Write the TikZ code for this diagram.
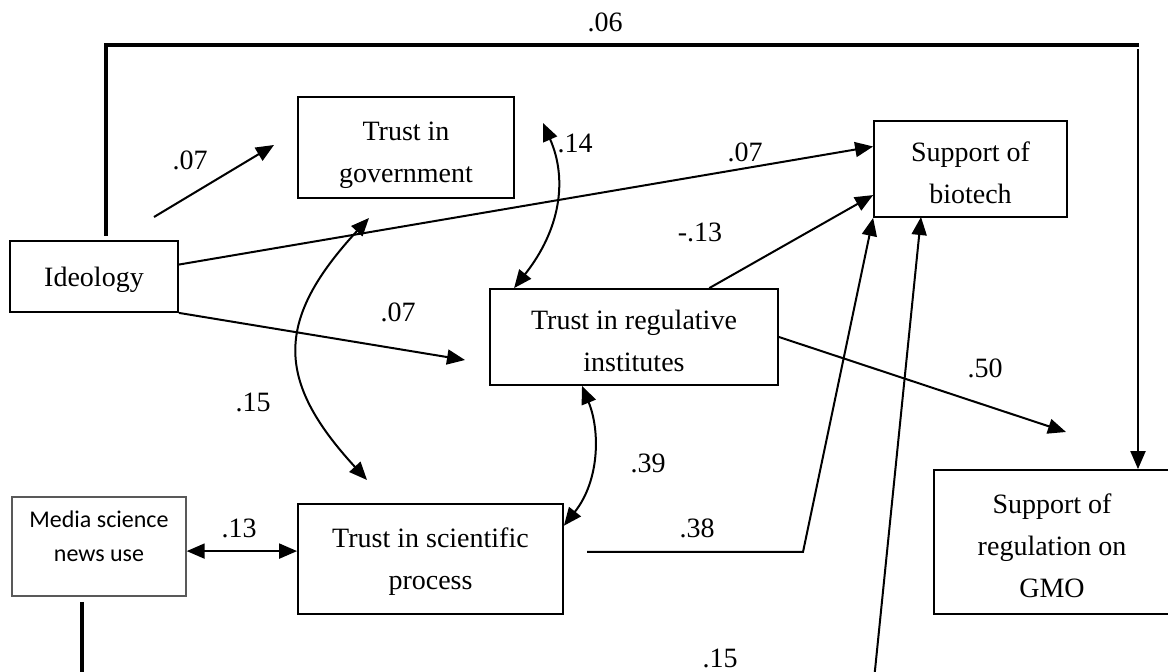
\documentclass[tikz,border=0pt]{standalone}
\usepackage{fontspec}
\setmainfont{Liberation Serif}
\newfontfamily\mediafont{Carlito}
\usepackage{tikz}
\usetikzlibrary{arrows.meta}

\newcommand{\topstrut}{\rule{0pt}{14pt}}

\tikzset{
  box/.style = {draw, line width = 0.9pt, inner sep = 0pt, align = center,
    font = \fontsize{14}{21}\selectfont, text depth = 0pt},
  mediabox/.style = {draw = black!65, line width = 0.7pt, inner sep = 0pt,
    align = center, font = \mediafont\fontsize{12}{17}\selectfont},
  coef/.style = {inner sep = 0pt, font = \fontsize{14}{16}\selectfont},
  link/.style = {line width = 1pt, -{Triangle[length = 9pt, width = 7.5pt]}},
  twoway/.style = {line width = 1pt,
    {Triangle[length = 9pt, width = 7.5pt]}-{Triangle[length = 9pt, width = 7.5pt]}},
  heavy/.style = {line width = 1.6pt}
}

\begin{document}
\begin{tikzpicture}[x = 0.5pt, y = -0.5pt]
\useasboundingbox (0,0) rectangle (1168,672);

% variables
\node[box, minimum width = 84pt, minimum height = 35.5pt] (ideo) at (94,276.5) {Ideology};
\node[box, minimum width = 108pt, minimum height = 50.5pt] (gov) at (406,147.5) {\topstrut Trust in\\government};
\node[box, minimum width = 96.5pt, minimum height = 48pt] (bio) at (970.5,169) {\topstrut Support of\\biotech};
\node[box, minimum width = 144pt, minimum height = 48pt] (reg) at (634,337) {\topstrut Trust in regulative\\institutes};
\node[box, minimum width = 132.5pt, minimum height = 55pt] (sci) at (430.5,559) {Trust in scientific\\process};
\node[mediabox, minimum width = 87pt, minimum height = 49.5pt] (media) at (99,546.5) {Media science\\news use\\[-7pt]\mbox{}};
\node[box, minimum width = 118pt, minimum height = 72pt] (gmo) at (1052,542) {\topstrut Support of\\regulation on\\GMO};

\coordinate (i06) at (106,236);
\coordinate (c06) at (1139,45);
\coordinate (g06) at (1138,49);
\coordinate (a07) at (154,217);
\coordinate (b07) at (274,145);
\coordinate (r07) at (465,360);
\coordinate (g15) at (369,218);
\coordinate (s15) at (367,480);
\coordinate (g14) at (543,123);
\coordinate (g50) at (1066,432);
\coordinate (s38) at (587,552);
\coordinate (k38) at (803,552);
\coordinate (m15) at (82,602);
\coordinate (m15b) at (82,680);
\coordinate (b15) at (874,680);
\coordinate (b15t) at (921,217);

% paths
\draw[heavy] (i06) |- (c06);
\draw[link] (g06) -- (g06 |- gmo.north);
\draw[link] (a07) -- (b07);
\draw[link] (ideo.8) -- (bio.167);
\draw[link] (ideo.south east) -- (r07);
\draw[twoway] (g15) .. controls (275,320) and (275,380) .. (s15);
\draw[twoway] ([xshift = 12.5pt]reg.north west) .. controls (560,230) and (568,180) .. (g14);
\draw[twoway] ([xshift = -26pt]reg.south) .. controls (600,430) and (600,480) .. (sci.14);
\draw[link] (reg.33) -- (bio.195);
\draw[link] (reg.east) -- (g50);
\draw[link] (s38) -- (k38) -- (bio.south west);
\draw[twoway] (media.-3) -- (sci.west |- media.-3);
\draw[heavy] (m15) -- (m15b);
\draw[link] (b15) -- (b15t);

% coefficients
\node[coef] (l06) at (605,22) {.06};
\node[coef] (l07a) at (190,160) {.07};
\node[coef] (l14) at (575,143) {.14};
\node[coef] (l07b) at (745,152) {.07};
\node[coef] (l13a) at (700,232) {-.13};
\node[coef] (l07c) at (398,312) {.07};
\node[coef] (l15a) at (253,402) {.15};
\node[coef] (l50) at (985,368) {.50};
\node[coef] (l39) at (648,463) {.39};
\node[coef] (l13b) at (239,528) {.13};
\node[coef] (l38) at (697,528) {.38};
\node[coef] (l15b) at (720,658) {.15};

\end{tikzpicture}
\end{document}
